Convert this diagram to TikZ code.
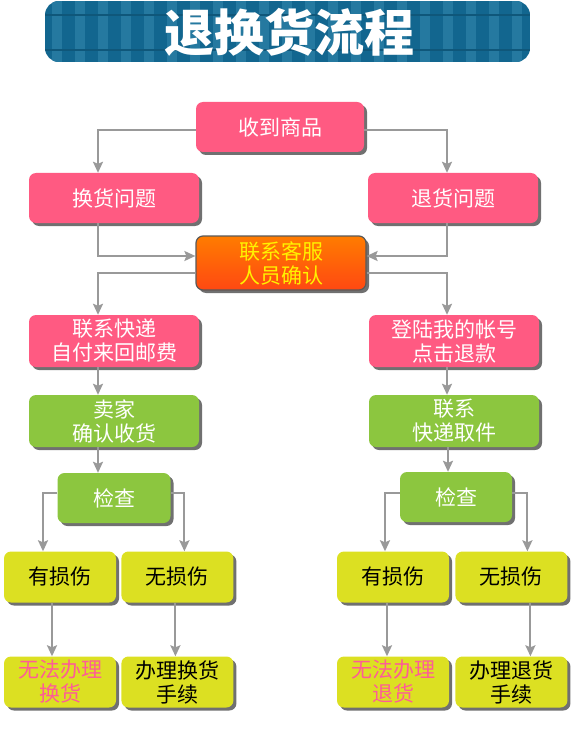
\documentclass[tikz,border=0pt]{standalone}
\usepackage{fontspec}
\setmainfont{Noto Sans CJK SC}
\usetikzlibrary{positioning}
\usetikzlibrary{shadows}
\usetikzlibrary{arrows.meta}

\definecolor{rosebox}{HTML}{FF5A82}
\definecolor{leafbox}{HTML}{8CC63F}
\definecolor{limebox}{HTML}{DCE022}
\definecolor{banner}{HTML}{12668F}
\definecolor{bannerlight}{HTML}{2579A0}
\definecolor{flowgray}{HTML}{999999}
\definecolor{warnpink}{HTML}{FF5C96}
\definecolor{orangetop}{HTML}{FF7C00}
\definecolor{orangebot}{HTML}{FF4812}

\tikzset{
  box/.style={rectangle, rounded corners=7pt, minimum width=170pt, minimum height=50pt,
    align=center, inner sep=2pt, font=\fontsize{21}{24}\selectfont,
    drop shadow={shadow xshift=3pt, shadow yshift=-3pt, fill=black!75, opacity=0.75}},
  pinkbox/.style={box, fill=rosebox, text=white},
  greenbox/.style={box, fill=leafbox, text=white},
  yellowbox/.style={box, fill=limebox, text=black, minimum width=112pt, minimum height=51pt},
  flow/.style={draw=flowgray, line width=2pt, -{Stealth[length=11pt,width=10pt,inset=2pt]}},
}

\begin{document}
\begin{tikzpicture}[x=1pt, y=-1pt]

    \useasboundingbox (0,0) rectangle (581,738);

    % Title banner
    \begin{scope}
      \clip[rounded corners=14pt] (45,1) rectangle (530,62);
      \fill[banner] (45,1) rectangle (530,62);
      \foreach \sx in {52,75,...,530}
        \fill[bannerlight] (\sx,1) rectangle ++(10,61);
      \draw[banner!85!black, line width=2pt] (45,15) -- (530,15) (45,50) -- (530,50);
    \end{scope}
    \node[text=white, font=\fontsize{50}{50}\selectfont\bfseries] (title) at (289,32) {退换货流程};

    % Nodes
    \node[pinkbox, minimum width=168pt] (recv) at (280,127) {收到商品};
    \node[pinkbox] (exch) at (114,198) {换货问题};
    \node[pinkbox] (ret) at (453,198) {退货问题};
    \node[box, minimum height=54pt, top color=orangetop, bottom color=orangebot, text=yellow,
      draw=black!65, line width=1.2pt] (svc) at (281,263) {联系客服\\人员确认};
    \node[pinkbox, minimum height=52pt] (post) at (114,341) {联系快递\\自付来回邮费};
    \node[pinkbox, minimum height=52pt] (acct) at (454,341) {登陆我的帐号\\点击退款};
    \node[greenbox, minimum height=52pt] (recvok) at (114,421) {卖家\\确认收货};
    \node[greenbox, minimum height=52pt] (pickup) at (454,421) {联系\\快递取件};
    \node[greenbox, minimum width=113pt] (checkL) at (114,498) {检查};
    \node[greenbox, minimum width=112pt] (checkR) at (456,497) {检查};

    \node[yellowbox] (hurtL) at (60,577) {有损伤};
    \node[yellowbox, right=5pt of hurtL] (fineL) {无损伤};
    \node[yellowbox] (hurtR) at (393,577) {有损伤};
    \node[yellowbox, right=6pt of hurtR] (fineR) {无损伤};

    \node[yellowbox, text=warnpink] (failL) at (60,682) {无法办理\\换货};
    \node[yellowbox, right=5pt of failL] (doneL) {办理换货\\手续};
    \node[yellowbox, text=warnpink] (failR) at (393,682) {无法办理\\退货};
    \node[yellowbox, right=6pt of failR] (doneR) {办理退货\\手续};

    % Connectors
    \draw[flow] ([yshift=-3pt]recv.west) -| ([xshift=-16pt]exch.north);
    \draw[flow] ([yshift=-3pt]recv.east) -| ([xshift=-6pt]ret.north);
    \draw[flow] ([xshift=-16pt]exch.south) |- ([yshift=7pt]svc.west);
    \draw[flow] ([xshift=-6pt]ret.south) |- ([yshift=7pt]svc.east);
    \draw[flow] ([yshift=-10pt]svc.west) -| ([xshift=-16pt]post.north);
    \draw[flow] ([yshift=-10pt]svc.east) -| ([xshift=-7pt]acct.north);
    \draw[flow] ([xshift=-16pt]post.south) -- ([xshift=-16pt]recvok.north);
    \draw[flow] ([xshift=-7pt]acct.south) -- ([xshift=-7pt]pickup.north);
    \draw[flow] ([xshift=-16pt]recvok.south) -- ([xshift=-16pt]checkL.north);
    \draw[flow] ([xshift=-6pt]pickup.south) -- ([xshift=-8pt]checkR.north);
    \draw[flow] ([yshift=5pt]checkL.west) -| ([xshift=-17pt]hurtL.north);
    \draw[flow] ([yshift=5pt]checkL.east) -| ([xshift=7pt]fineL.north);
    \draw[flow] ([yshift=4pt]checkR.west) -| ([xshift=-8pt]hurtR.north);
    \draw[flow] ([yshift=4pt]checkR.east) -| ([xshift=16pt]fineR.north);
    \draw[flow] ([xshift=-8pt]hurtL.south) -- ([xshift=-8pt]failL.north);
    \draw[flow] ([xshift=-2pt]fineL.south) -- ([xshift=-2pt]doneL.north);
    \draw[flow] ([xshift=-6pt]hurtR.south) -- ([xshift=-6pt]failR.north);
    \draw[flow] ([xshift=19pt]fineR.south) -- ([xshift=19pt]doneR.north);

  \end{tikzpicture}
\end{document}
